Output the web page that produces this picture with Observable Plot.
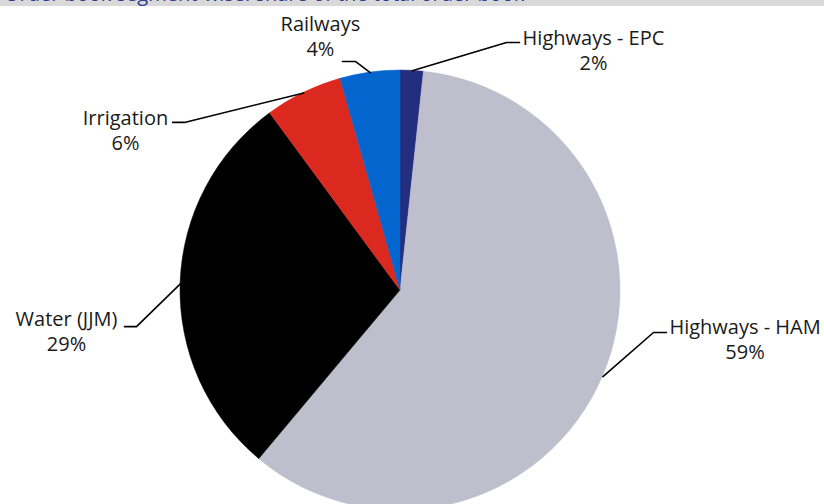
<!DOCTYPE html>
<html>
<head>
<meta charset="utf-8">
<script src="https://cdn.jsdelivr.net/npm/d3@7"></script>
<script src="https://cdn.jsdelivr.net/npm/@observablehq/plot@0.6"></script>
<style>
  html, body { margin: 0; padding: 0; background: #fff; overflow: hidden; width: 824px; height: 504px; }
  #topbar { height: 6px; background: #d9d9d9; overflow: hidden; position: relative; }
  #topbar span { position: absolute; left: 4px; top: -20px; font-family: "Open Sans", sans-serif; font-size: 20px; line-height: 27px; color: #2e3f93; white-space: nowrap; }
  #chart svg { display: block; }
</style>
</head>
<body>
<div id="topbar"><span>Order book segment-wise: share of the total order book</span></div>
<div id="chart"></div>
<script>
// ---- data ----
const segments = ["Highways - EPC", "Highways - HAM", "Water (JJM)", "Irrigation", "Railways"];
const shares = [1.7, 59.4, 28.8, 5.7, 4.4];
const pctLabels = ["2%", "59%", "29%", "6%", "4%"];
const colors = ["#232f7e", "#bfbecd", "#000000", "#dc291f", "#0565cf"];

// ---- layout (unit-circle coordinates, radius = 1) ----
const elbows = {
  "Highways - EPC": [[0.482, 1.127], [0.541, 1.127]],
  "Highways - HAM": [[1.150, -0.191], [1.209, -0.191]],
  "Water (JJM)":    [[-1.200, -0.164], [-1.255, -0.164]],
  "Irrigation":     [[-0.982, 0.764], [-1.036, 0.764]],
  "Railways":       [[-0.205, 1.041], [-0.264, 1.041]]
};
const labelPos = {
  "Highways - EPC": [0.877, 1.097],
  "Highways - HAM": [1.566, -0.216],
  "Water (JJM)":    [-1.518, -0.182],
  "Irrigation":     [-1.250, 0.732],
  "Railways":       [-0.364, 1.159]
};

const data = segments.map((s, i) => ({segment: s, value: shares[i], pct: pctLabels[i], color: colors[i]}));
const arcs = d3.pie().sort(null).value(d => d.value)(data);

// leader lines: slice mid-angle on rim -> elbow -> end
const leaders = [];
arcs.forEach(a => {
  const mid = (a.startAngle + a.endAngle) / 2;
  const s = a.data.segment;
  leaders.push({segment: s, x: Math.sin(mid), y: Math.cos(mid)});
  elbows[s].forEach(([x, y]) => leaders.push({segment: s, x, y}));
});
const labels = data.map(d => ({text: d.segment + "\n" + d.pct, x: labelPos[d.segment][0], y: labelPos[d.segment][1]}));

const pieMark = (index, scales, values, dimensions) => {
  const cx = scales.x(0), cy = scales.y(0);
  const r = scales.x(1) - scales.x(0);
  const g = d3.create("svg:g").attr("transform", `translate(${cx},${cy})`);
  const arcGen = d3.arc().innerRadius(0).outerRadius(r);
  g.selectAll("path").data(arcs).join("path")
    .attr("d", arcGen)
    .attr("fill", d => d.data.color)
    .attr("stroke", d => d.data.color)
    .attr("stroke-width", 0.5);
  return g.node();
};

const chart = Plot.plot({
  width: 824,
  height: 510,
  marginLeft: 180,
  marginRight: 204,
  marginTop: 64,
  marginBottom: 6,
  x: {domain: [-1, 1], axis: null},
  y: {domain: [-1, 1], axis: null},
  style: {background: "#fff", overflow: "visible"},
  marks: [
    pieMark,
    Plot.line(leaders, {x: "x", y: "y", z: "segment", stroke: "#000", strokeWidth: 1.6}),
    Plot.text(labels, {
      x: "x", y: "y", text: "text",
      fontSize: 20, lineHeight: 1.25,
      fontFamily: "Open Sans", fill: "#1a1a1a",
      textAnchor: "middle", lineAnchor: "middle"
    })
  ]
});
document.getElementById("chart").appendChild(chart);
</script>
</body>
</html>
